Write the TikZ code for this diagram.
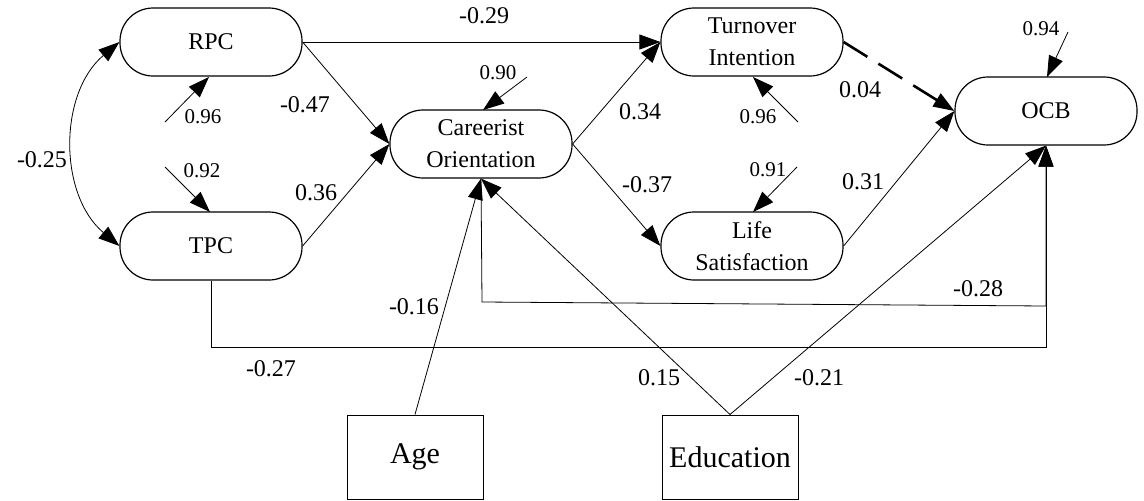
\documentclass[tikz,border=0pt]{standalone}
\usepackage{fontspec}
\setmainfont{Liberation Serif}
\usetikzlibrary{arrows.meta}
\begin{document}
\begin{tikzpicture}[x=1pt,y=-1pt,
  latent/.style={draw, line width=1.2pt, rounded corners=33pt, minimum width=182pt, minimum height=68pt, inner sep=0pt, align=center, font=\fontsize{24}{32}\selectfont},
  observed/.style={draw, line width=1pt, minimum width=136pt, minimum height=84pt, inner sep=0pt, font=\fontsize{30}{36}\selectfont},
  coef/.style={font=\fontsize{24}{28}\selectfont, inner sep=0pt},
  errlab/.style={font=\fontsize{21}{24}\selectfont, inner sep=0pt},
  conn/.style={line width=0.8pt, -{Triangle[length=21pt,width=15pt]}},
  dconn/.style={line width=0.8pt, {Triangle[length=21pt,width=15pt]}-{Triangle[length=21pt,width=15pt]}},
  dashconn/.style={line width=2.6pt, dash pattern=on 28pt off 13pt, -{Triangle[length=21pt,width=15pt]}},
]
\useasboundingbox (0,0) rectangle (1144,501);
\fill[white] (0,0) rectangle (1144,501);

% nodes
\node[latent] (RPC) at (211,42) {RPC};
\node[latent] (TPC) at (211,246) {TPC};
\node[latent] (CO) at (481,144) {Careerist\\Orientation};
\node[latent] (TI) at (752,42) {Turnover\\Intention};
\node[latent] (LS) at (752,246) {Life\\Satisfaction};
\node[latent] (OCB) at (1046,111) {OCB};
\node[observed] (Age) at (415,457) {Age};
\node[observed] (Edu) at (730,457) {Education};

% error sources
\coordinate (eRPC) at (165,122);
\coordinate (eTPC) at (165,167);
\coordinate (eCO) at (527,77);
\coordinate (eTI) at (798,122);
\coordinate (eLS) at (797,167);
\coordinate (eOCB) at (1068,32);
\coordinate (tRPC) at (209,77);
\coordinate (tTPC) at (210,212);
\coordinate (tCO) at (483,110);
\coordinate (tTI) at (753,77);
\coordinate (tLS) at (753,212);
\coordinate (tOCB) at (1047,77);

\draw[conn] (eRPC) -- (tRPC);
\draw[conn] (eTPC) -- (tTPC);
\draw[conn] (eCO) -- (tCO);
\draw[conn] (eTI) -- (tTI);
\draw[conn] (eLS) -- (tLS);
\draw[conn] (eOCB) -- (tOCB);

% corners of elbow paths
\coordinate (c1) at (482,302);
\coordinate (c2) at (1046,306);
\coordinate (c3) at (211,347);
\coordinate (c4) at (1046,347);

% paths
\draw[dconn] (RPC.west) to[bend right=50] (TPC.west);
\draw[conn] (RPC.east) -- (TI.west);
\draw[conn] (RPC.east) -- (CO.west);
\draw[conn] (TPC.east) -- (CO.west);
\draw[conn] (CO.east) -- (TI.west);
\draw[conn] (CO.east) -- (LS.west);
\draw[dashconn] (TI.east) -- (OCB.west);
\draw[conn] (LS.east) -- (OCB.west);
\draw[conn] (Age.north) -- (CO.south);
\draw[conn] (Edu.north) -- (CO.south);
\draw[conn] (Edu.north) -- (OCB.south);
\draw[conn] (TPC.south) -- (c3) -- (c4) -- (OCB.south);
\draw[conn] (CO.south) -- (c1) -- (c2) -- (OCB.south);

% coefficients
\node[coef] (k25) at (42,160) {-0.25};
\node[coef] (k29) at (484,16) {-0.29};
\node[coef] (k47) at (305,105) {-0.47};
\node[coef] (k36) at (316,193) {0.36};
\node[coef] (k34) at (640,112) {0.34};
\node[coef] (k37) at (647,185) {-0.37};
\node[coef] (k04) at (860,90) {0.04};
\node[coef] (k31) at (863,182) {0.31};
\node[coef] (k16) at (414,307) {-0.16};
\node[coef] (k15) at (659,378) {0.15};
\node[coef] (k21) at (819,378) {-0.21};
\node[coef] (k27) at (271,369) {-0.27};
\node[coef] (k28) at (978,289) {-0.28};

% error labels
\node[errlab] (r1) at (203,117) {0.96};
\node[errlab] (r2) at (202,171) {0.92};
\node[errlab] (r3) at (498,73) {0.90};
\node[errlab] (r4) at (758,117) {0.96};
\node[errlab] (r5) at (768,170) {0.91};
\node[errlab] (r6) at (1041,29) {0.94};
\end{tikzpicture}
\end{document}
